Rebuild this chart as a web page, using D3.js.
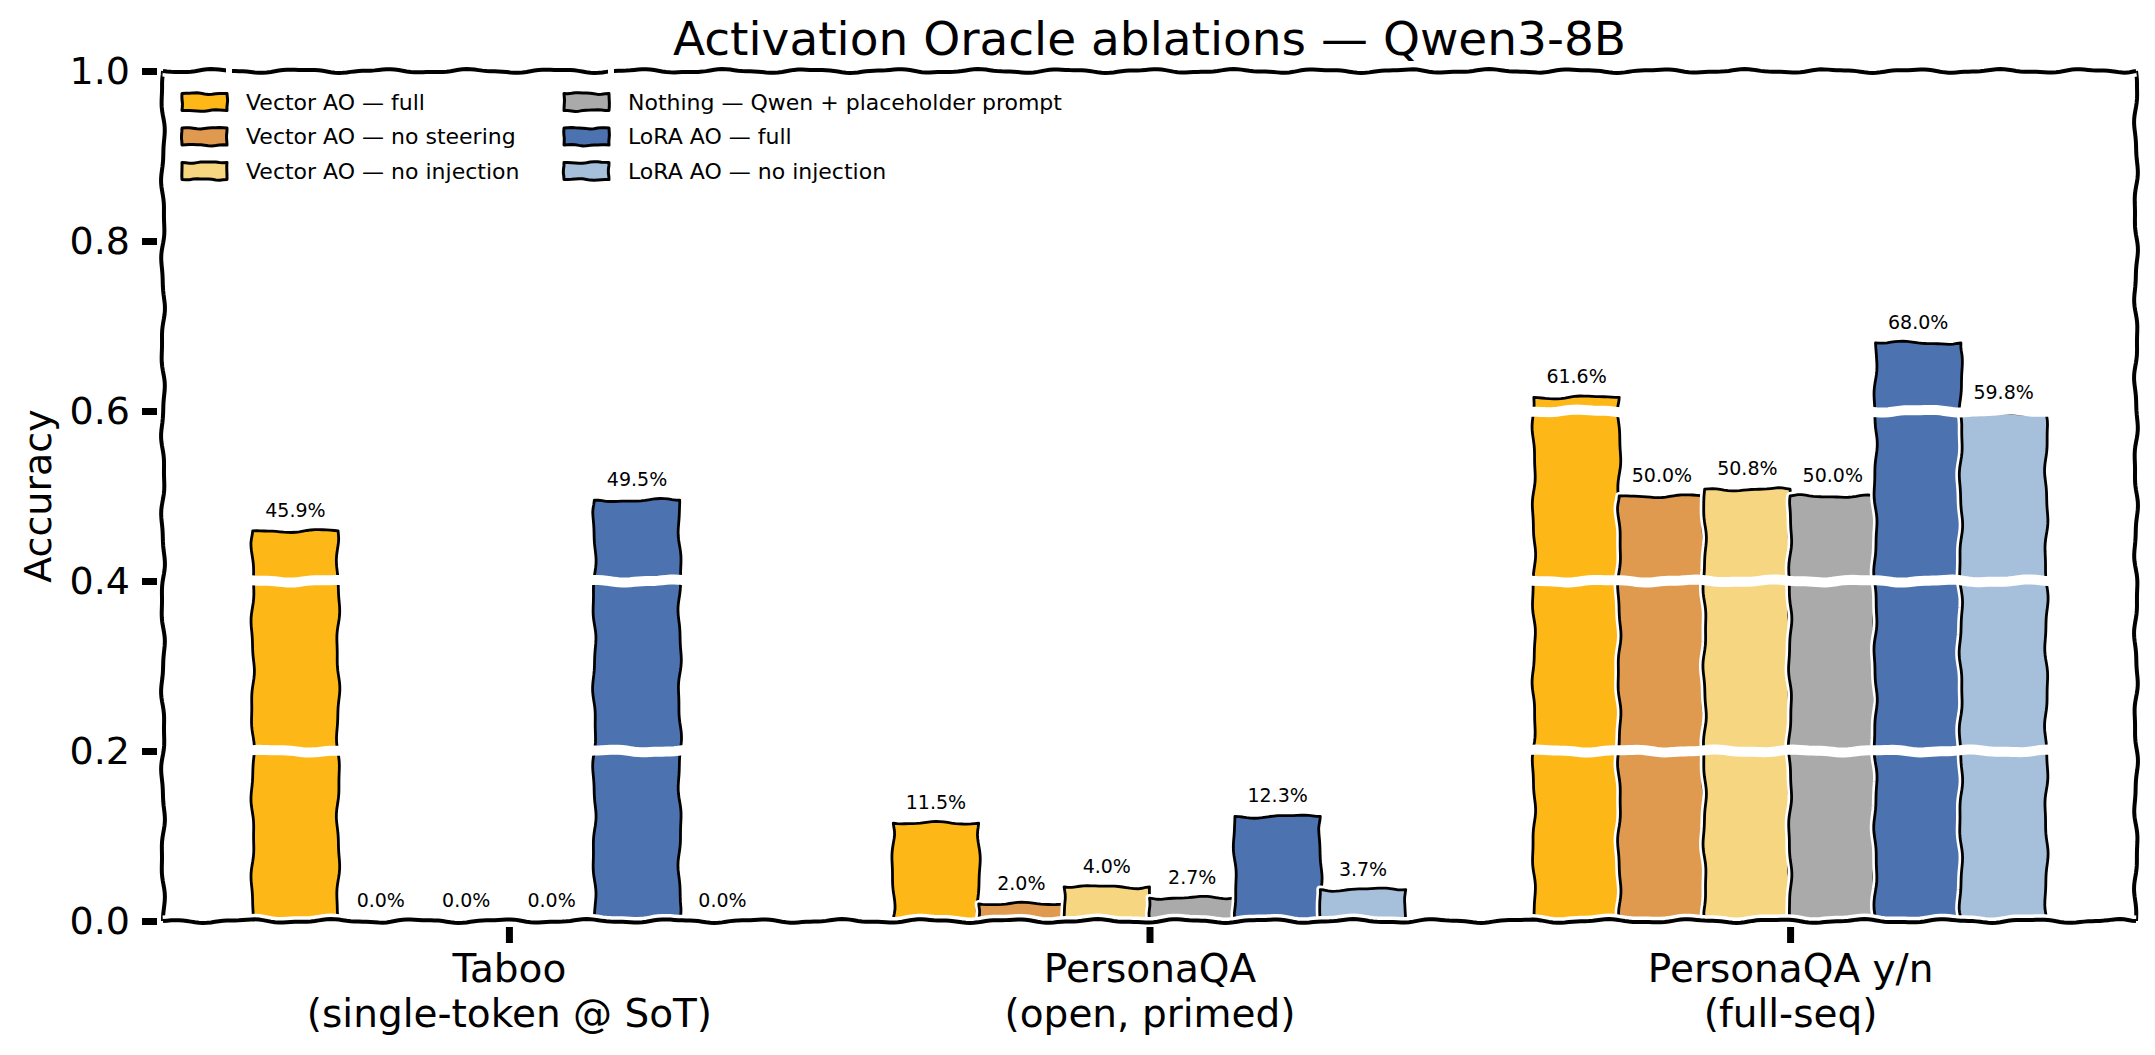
<!DOCTYPE html>
<html>
<head>
<meta charset="utf-8">
<script src="https://cdn.jsdelivr.net/npm/d3@7"></script>
<style>
  body { margin: 0; background: #fff; }
  svg { display: block; }
  text { font-family: "DejaVu Sans", sans-serif; fill: #000; }
</style>
</head>
<body>
<div id="chart"></div>
<script>
// ---- data ----
const groupLabels = [["Taboo", "(single-token @ SoT)"], ["PersonaQA", "(open, primed)"], ["PersonaQA y/n", "(full-seq)"]];
const seriesNames = ["Vector AO — full", "Vector AO — no steering", "Vector AO — no injection",
                     "Nothing — Qwen + placeholder prompt", "LoRA AO — full", "LoRA AO — no injection"];
const seriesColors = ["#fdb817", "#df9a50", "#f6d680", "#aaaaaa", "#4c72b0", "#a6c0dc"];
const vectorFull     = [0.459, 0.115, 0.616];
const vectorNoSteer  = [0.000, 0.020, 0.500];
const vectorNoInject = [0.000, 0.040, 0.508];
const nothingPrompt  = [0.000, 0.027, 0.500];
const loraFull       = [0.495, 0.123, 0.680];
const loraNoInject   = [0.000, 0.037, 0.598];
const yTicks = [0.0, 0.2, 0.4, 0.6, 0.8, 1.0];
const gridValues = [0.2, 0.4, 0.6, 0.8];

const seriesValues = [vectorFull, vectorNoSteer, vectorNoInject, nothingPrompt, loraFull, loraNoInject];

const W = 2155, H = 1055;
const axLeft = 163, axRight = 2136, axTop = 71, axBottom = 921;

const svg = d3.select("#chart").append("svg").attr("width", W).attr("height", H);

// group position scale (matplotlib style numeric x) and bar offset scale
const x = d3.scaleLinear().domain([-0.54, 2.54]).range([axLeft, axRight]);
const inner = d3.scaleBand().domain(d3.range(seriesNames.length)).range([-0.4, 0.4]);
const y = d3.scaleLinear().domain([0, 1]).range([axBottom, axTop]);

// xkcd-ish wobble along a polyline (deterministic)
function wobble(pts, closed, seed, amp = 1.8, period = 85) {
  const P = closed ? pts.concat([pts[0]]) : pts;
  const out = [];
  let s = 0;
  const ph1 = seed * 1.73, ph2 = seed * 2.91;
  for (let k = 0; k < P.length - 1; k++) {
    const [xa, ya] = P[k], [xb, yb] = P[k + 1];
    const L = Math.hypot(xb - xa, yb - ya);
    if (L === 0) continue;
    const n = Math.max(1, Math.ceil(L / 4));
    const nx = -(yb - ya) / L, ny = (xb - xa) / L;
    const last = k === P.length - 2;
    for (let j = 0; j < (last ? n + 1 : n); j++) {
      const t = j / n, d = s + t * L;
      // fade the offset near the ends of each segment so corners stay tidy
      const fade = Math.min(1, (t * L) / 10, ((1 - t) * L) / 10);
      const off = fade * amp * (0.75 * Math.sin(2 * Math.PI * d / period + ph1) +
                                0.25 * Math.sin(2 * Math.PI * d / (period * 0.43) + ph2));
      out.push([xa + (xb - xa) * t + nx * off, ya + (yb - ya) * t + ny * off]);
    }
    s += L;
  }
  return out;
}
const line = d3.line();

// bars: series by series, each with a white halo then fill + black edge
const barLayer = svg.append("g");
seriesValues.forEach((vals, si) => {
  vals.forEach((v, gi) => {
    if (v <= 0) return;
    const x0 = x(gi + inner(si)), x1 = x(gi + inner(si) + inner.bandwidth());
    const pts = [[x0, y(0)], [x0, y(v)], [x1, y(v)], [x1, y(0)]];
    const d = line(wobble(pts, true, si * 7 + gi * 3 + 1)) + "Z";
    barLayer.append("path").attr("d", d)
      .attr("fill", "none").attr("stroke", "#fff").attr("stroke-width", 8).attr("stroke-linejoin", "round");
    barLayer.append("path").attr("d", d)
      .attr("fill", seriesColors[si]).attr("stroke", "#000").attr("stroke-width", 2.8).attr("stroke-linejoin", "round");
  });
});

// white grid lines drawn over the bars
svg.append("g").selectAll("path").data(gridValues).join("path")
  .attr("d", (v, i) => line(wobble([[axLeft, y(v)], [axRight, y(v)]], false, 20 + i, 1.6)))
  .attr("fill", "none").attr("stroke", "#fff").attr("stroke-width", 10);

// spines with white halo
const spines = [
  [[axLeft, axBottom], [axLeft, axTop]],
  [[axRight, axBottom], [axRight, axTop]],
  [[axLeft, axBottom], [axRight, axBottom]],
  [[axLeft, axTop], [axRight, axTop]]
];
const spineLayer = svg.append("g");
spines.forEach((s, i) => {
  const d = line(wobble(s, false, 40 + i * 5, 2.0));
  spineLayer.append("path").attr("d", d).attr("fill", "none").attr("stroke", "#fff").attr("stroke-width", 11);
  spineLayer.append("path").attr("d", d).attr("fill", "none").attr("stroke", "#000").attr("stroke-width", 4);
});

// y axis ticks + labels
const yAxis = svg.append("g").attr("transform", `translate(157,0)`)
  .call(d3.axisLeft(y).tickValues(yTicks).tickFormat(d3.format(".1f")).tickSize(15).tickPadding(12));
yAxis.select(".domain").remove();
yAxis.selectAll(".tick line").attr("stroke", "#000").attr("stroke-width", 7);
yAxis.selectAll(".tick text").style("font-size", "38px").attr("font-family", null);

// x axis ticks + two-line labels
const xAxis = svg.append("g").attr("transform", `translate(0,927)`)
  .call(d3.axisBottom(x).tickValues([0, 1, 2]).tickSize(16).tickFormat(""));
xAxis.select(".domain").remove();
xAxis.selectAll(".tick line").attr("stroke", "#000").attr("stroke-width", 7);
xAxis.selectAll(".tick").each(function (d) {
  const t = d3.select(this).append("text").attr("text-anchor", "middle").style("font-size", "39px");
  groupLabels[d].forEach((s, k) => t.append("tspan").attr("x", 0).attr("y", 55 + k * 45).text(s));
});

// value labels
const labelLayer = svg.append("g");
seriesValues.forEach((vals, si) => {
  vals.forEach((v, gi) => {
    labelLayer.append("text")
      .attr("x", x(gi + inner(si) + inner.bandwidth() / 2))
      .attr("y", y(v) - 14)
      .attr("text-anchor", "middle")
      .style("font-size", "19px")
      .text(d3.format(".1%")(v));
  });
});

// title and y label
svg.append("text").attr("x", (axLeft + axRight) / 2).attr("y", 55).attr("text-anchor", "middle")
  .style("font-size", "47px").text("Activation Oracle ablations — Qwen3-8B");
svg.append("text").attr("transform", `translate(51,${(axTop + axBottom) / 2}) rotate(-90)`)
  .attr("text-anchor", "middle").style("font-size", "38px").text("Accuracy");

// legend (2 columns x 3 rows, no frame)
const legend = svg.append("g");
const colX = [182, 564], rowY = [102, 136.5, 171];
seriesNames.forEach((name, i) => {
  const cx = colX[Math.floor(i / 3)], cy = rowY[i % 3];
  const pts = [[cx, cy - 8.5], [cx + 45, cy - 8.5], [cx + 45, cy + 8.5], [cx, cy + 8.5]];
  const d = line(wobble(pts, true, 60 + i, 1.0, 40)) + "Z";
  legend.append("path").attr("d", d).attr("fill", seriesColors[i])
    .attr("stroke", "#000").attr("stroke-width", 3).attr("stroke-linejoin", "round");
  // little break the handle leaves in the top spine
  if (i % 3 === 0) {
    legend.append("rect").attr("x", cx + 44).attr("y", axTop - 8).attr("width", 6).attr("height", 16).attr("fill", "#fff");
  }
  legend.append("text").attr("x", cx + 64).attr("y", cy).attr("dy", "0.36em")
    .style("font-size", "22px").text(name);
});
</script>
</body>
</html>
